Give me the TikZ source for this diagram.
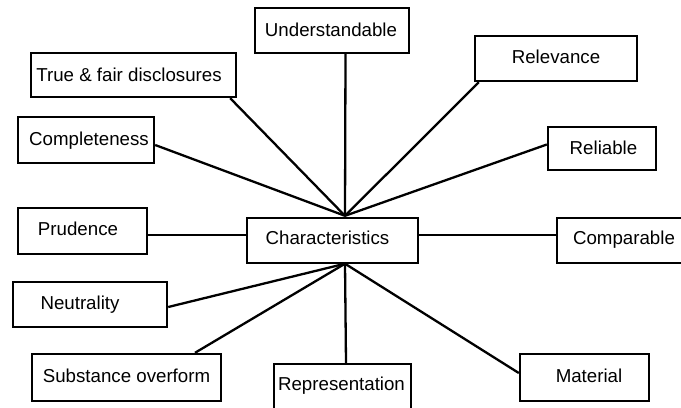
\documentclass[tikz,border=0pt]{standalone}
\usepackage{fontspec}
\setmainfont{Liberation Sans}
\usetikzlibrary{calc}
\tikzset{
  box/.style={draw=black, line width=2.4bp, rectangle, inner sep=0pt, fill=white},
  lbl/.style={inner sep=0pt, text height=13.4bp, text depth=0pt, font=\fontsize{18.7bp}{22bp}\selectfont},
  conn/.style={draw=black, line width=2.3bp}
}
\begin{document}
\begin{tikzpicture}[x=1bp,y=-1bp]
\useasboundingbox (0,0) rectangle (681,407);
\clip (0,0) rectangle (681,407);
% boxes
\node[box, minimum width=154bp, minimum height=45bp] (U) at (332,30.5) {};
\node[box, minimum width=205bp, minimum height=44bp] (T) at (133.5,75) {};
\node[box, minimum width=136bp, minimum height=46bp] (Co) at (86,140) {};
\node[box, minimum width=162bp, minimum height=45bp] (Rel) at (556,58.5) {};
\node[box, minimum width=108bp, minimum height=43bp] (Rl) at (602,148.5) {};
\node[box, minimum width=129bp, minimum height=46bp] (P) at (82.5,231) {};
\node[box, minimum width=171bp, minimum height=45bp] (Ch) at (332.5,240.5) {};
\node[box, minimum width=154bp, minimum height=45bp] (N) at (90,304.5) {};
\node[box, minimum width=189bp, minimum height=47bp] (S) at (126.5,377.5) {};
\node[box, minimum width=137bp, minimum height=66bp] (Rep) at (342.5,397) {};
\node[box, minimum width=143bp, minimum height=45bp] (Cmp) at (628.5,240.5) {};
\node[box, minimum width=129bp, minimum height=47bp] (M) at (584.5,377.5) {};
% labels
\node[lbl] (tU) at (331,30) {Understandable};
\node[lbl] (tT) at (129,75) {True \& fair disclosures};
\node[lbl] (tCo) at (89,139) {Completeness};
\node[lbl] (tRel) at (556,57) {Relevance};
\node[lbl] (tRl) at (603.5,148) {Reliable};
\node[lbl] (tP) at (78,229) {Prudence};
\node[lbl] (tCh) at (327.5,238) {Characteristics};
\node[lbl] (tN) at (80,303) {Neutrality};
\node[lbl] (tS) at (126.5,376) {Substance overform};
\node[lbl] (tRep) at (341.5,384) {Representation};
\node[lbl] (tCmp) at (624,238) {Comparable};
\node[lbl] (tM) at (589,376) {Material};
% hubs
\coordinate (htop) at ($(Ch.north)+(12.5,-1)$);
\coordinate (hbot) at ($(Ch.south)+(12.5,-0.5)$);
% connectors
\draw[conn] ($(U.south)+(13.5,0)$) -- (htop);
\draw[conn] ($(T.south east)+(-7,0)$) -- (htop);
\draw[conn] ($(Co.east)+(0,5)$) -- (htop);
\draw[conn] ($(Rel.south west)+(5,0)$) -- (htop);
\draw[conn] ($(Rl.west)+(0,-4)$) -- (htop);
\draw[conn] ($(P.east)+(0,4)$) -- ($(Ch.west)+(0,-5.5)$);
\draw[conn] ($(Ch.east)+(0,-5.5)$) -- ($(Cmp.west)+(0,-5.5)$);
\draw[conn] ($(N.east)+(0,2.5)$) -- (hbot);
\draw[conn] ($(S.north)+(68.5,0)$) -- (hbot);
\draw[conn] ($(Rep.north)+(3.5,0)$) -- (hbot);
\draw[conn] ($(M.west)+(0,-4.5)$) -- (hbot);
\end{tikzpicture}
\end{document}
